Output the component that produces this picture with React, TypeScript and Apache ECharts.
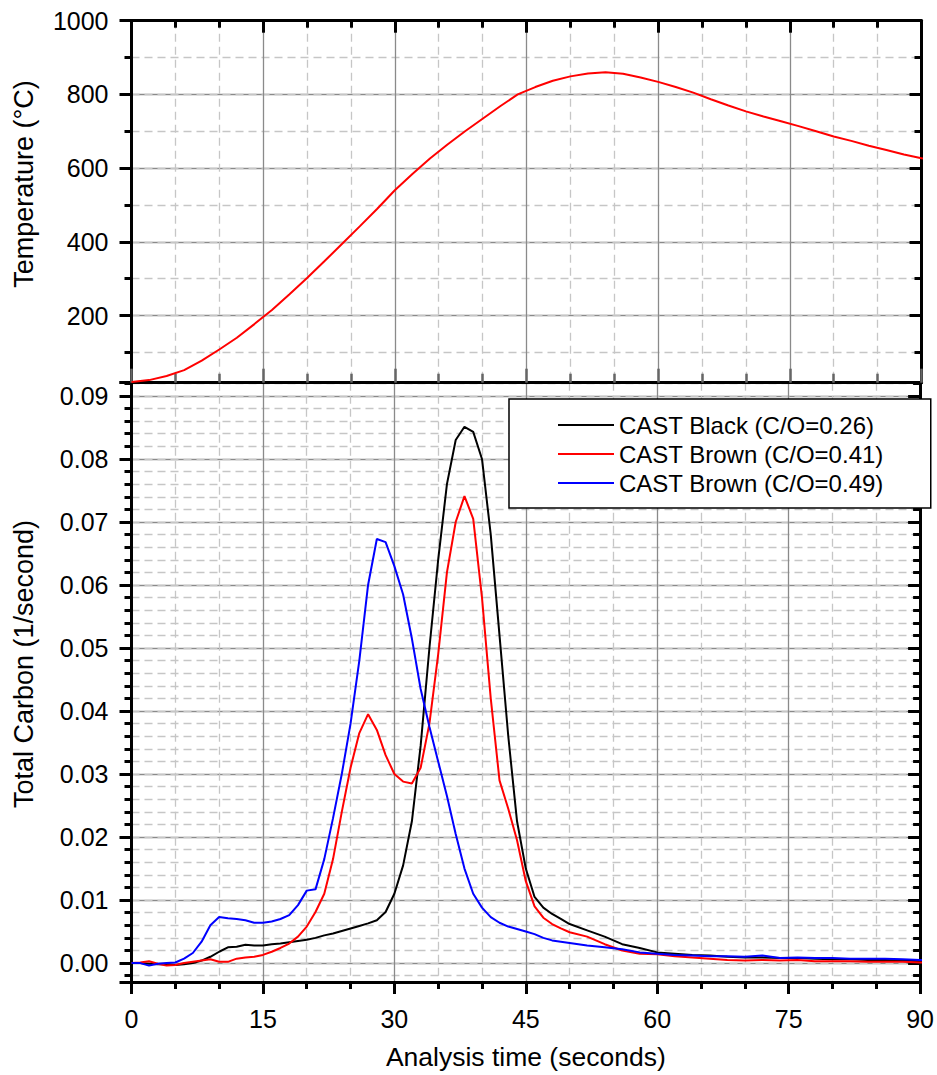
import React, { useEffect, useRef } from "react";
import * as echarts from "echarts";

// ---------- data ----------
const tempTime = [0, 2, 4, 6, 8, 10, 12, 14, 16, 18, 20, 22, 24, 26, 28, 30, 32, 34, 36, 38, 40, 42, 44, 46, 48, 50, 52, 54, 56, 58, 60, 62, 64, 66, 68, 70, 72, 74, 76, 78, 80, 82, 84, 86, 88, 90, 91.5];
const temperature = [20, 25, 36, 52, 78, 108, 140, 177, 215, 258, 302, 348, 395, 442, 490, 540, 584, 626, 664, 700, 734, 768, 800, 820, 837, 849, 857, 860, 856, 846, 834, 820, 805, 787, 770, 754, 740, 727, 714, 700, 686, 674, 661, 649, 637, 627, 619];

const carbonTime = [
  0, 1, 2, 3, 4, 5, 6, 7, 8, 9, 10, 11, 12, 13, 14, 15, 16, 17, 18, 19, 20, 21, 22, 23, 24, 25,
  26, 27, 28, 29, 30, 31, 32, 33, 34, 35, 36, 37, 38, 39, 40, 41, 42, 43, 44, 45, 46, 47, 48, 49, 50,
  52, 54, 56, 58, 60, 62, 64, 66, 68, 70, 72, 74, 76, 78, 80, 82, 84, 86, 88, 90, 91.5,
];
const castBlack026 = [
  0.0, 0.0, -0.0001, -0.0002, -0.0002, -0.0003, -0.0002, 0.0, 0.0004, 0.001, 0.0018, 0.0025, 0.0026, 0.0029, 0.0028, 0.0028, 0.003, 0.0031, 0.0033, 0.0035, 0.0037, 0.004, 0.0044, 0.0047, 0.0051, 0.0055,
  0.0059, 0.0063, 0.0068, 0.0081, 0.011, 0.0155, 0.0225, 0.0345, 0.05, 0.064, 0.076, 0.083, 0.0851, 0.0843, 0.08, 0.068, 0.052, 0.036, 0.0225, 0.015, 0.0105, 0.0088, 0.0078, 0.007, 0.0062,
  0.0052, 0.0042, 0.003, 0.0024, 0.0017, 0.0015, 0.0013, 0.0012, 0.001, 0.0009, 0.0009, 0.0008, 0.0008, 0.0007, 0.0006, 0.0006, 0.0005, 0.0005, 0.0004, 0.0003, 0.0006,
];
const castBrown041 = [
  0.0, 0.0001, 0.0003, -0.0001, -0.0004, -0.0003, 0.0, 0.0002, 0.0004, 0.0006, 0.0002, 0.0002, 0.0007, 0.0009, 0.001, 0.0013, 0.0018, 0.0024, 0.0031, 0.0042, 0.0058, 0.0081, 0.011, 0.0165, 0.024, 0.031,
  0.0365, 0.0395, 0.037, 0.033, 0.03, 0.0288, 0.0285, 0.031, 0.038, 0.049, 0.062, 0.07, 0.0741, 0.0705, 0.058, 0.042, 0.029, 0.0245, 0.0195, 0.013, 0.009, 0.0072, 0.0062, 0.0055, 0.0049,
  0.0042, 0.003, 0.002, 0.0015, 0.0014, 0.0011, 0.0009, 0.0007, 0.0005, 0.0004, 0.0005, 0.0004, 0.0005, 0.0003, 0.0003, 0.0003, 0.0002, 0.0002, 0.0002, 0.0001, 0.0001,
];
const castBrown049 = [
  0.0, 0.0, -0.0004, -0.0001, 0.0, 0.0001, 0.0007, 0.0016, 0.0034, 0.006, 0.0073, 0.0071, 0.007, 0.0068, 0.0064, 0.0064, 0.0066, 0.007, 0.0076, 0.0092, 0.0115, 0.0117, 0.0165, 0.023, 0.03, 0.038,
  0.048, 0.06, 0.0673, 0.0668, 0.063, 0.0585, 0.0515, 0.0435, 0.0375, 0.032, 0.0265, 0.0205, 0.015, 0.011, 0.0088, 0.0073, 0.0064, 0.0058, 0.0054, 0.005, 0.0046, 0.004, 0.0036, 0.0034, 0.0032,
  0.0028, 0.0025, 0.0022, 0.0017, 0.0015, 0.0013, 0.0012, 0.0011, 0.0011, 0.001, 0.0012, 0.0008, 0.0009, 0.0008, 0.0008, 0.0007, 0.0007, 0.0007, 0.0006, 0.0005, 0.0005,
];

const seriesNames = ["CAST Black (C/O=0.26)", "CAST Brown (C/O=0.41)", "CAST Brown (C/O=0.49)"];
const seriesColors = ["#000000", "#ff0000", "#0000ff"];

const FONT = "'Liberation Sans', Arial, sans-serif";

const pairs = (xs: number[], ys: number[]) => xs.map((x, i) => [x, ys[i]]);

const majorSplit = { show: true, lineStyle: { color: "#8a8a8a", width: 1.3 } };
const minorSplit = { show: true, lineStyle: { color: "#c6c6c6", width: 1.3, type: [8, 5] } };
const blackLine = { show: true, onZero: false, lineStyle: { color: "#000", width: 3 } };

export default function App() {
  const ref = useRef<HTMLDivElement>(null);
  useEffect(() => {
    document.body.style.margin = "0";
    const chart = echarts.init(ref.current!, null, { renderer: "svg" });

    const yTop = (extra: any) => ({
      type: "value",
      gridIndex: 0,
      min: 18,
      max: 1000,
      splitNumber: 5,
      axisLabel: { show: false },
      splitLine: { show: false },
      axisLine: { show: false, onZero: false },
      ...extra,
    });
    const yBot = (extra: any) => ({
      type: "value",
      gridIndex: 1,
      min: -0.003,
      max: 0.0921,
      splitNumber: 5,
      axisLabel: { show: false },
      splitLine: { show: false },
      axisLine: { show: false, onZero: false },
      ...extra,
    });

    chart.setOption({
      animation: false,
      backgroundColor: "#ffffff",
      textStyle: { fontFamily: FONT },
      grid: [
        { left: 131.5, top: 20.7, width: 790, height: 362, containLabel: false },
        { left: 131.5, top: 382.7, width: 790, height: 604.5, containLabel: false },
      ],
      xAxis: [
        {
          type: "value", gridIndex: 0, position: "top", min: 0, max: 90, interval: 15,
          axisLine: blackLine,
          axisTick: { show: true, inside: true, length: 12, lineStyle: { color: "#000", width: 3 } },
          minorTick: { show: true, splitNumber: 3, length: 7, lineStyle: { color: "#000", width: 3 } },
          axisLabel: { show: false },
          splitLine: majorSplit,
          minorSplitLine: minorSplit,
        },
        {
          type: "value", gridIndex: 0, position: "bottom", min: 0, max: 90, interval: 15,
          axisLine: blackLine,
          axisTick: { show: true, inside: true, length: 14, lineStyle: { color: "#666", width: 2.5 } },
          minorTick: { show: true, splitNumber: 3, length: 9, lineStyle: { color: "#666", width: 2.5 } },
          axisLabel: { show: false },
          splitLine: { show: false },
        },
        {
          type: "value", gridIndex: 1, position: "bottom", min: 0, max: 90, interval: 15,
          axisLine: blackLine,
          axisTick: { show: true, inside: false, length: 12, lineStyle: { color: "#000", width: 3 } },
          minorTick: { show: true, splitNumber: 3, length: 7, lineStyle: { color: "#000", width: 3 } },
          axisLabel: { show: true, fontSize: 25, color: "#000", margin: 24, fontFamily: FONT },
          splitLine: majorSplit,
          minorSplitLine: minorSplit,
          name: "Analysis time (seconds)",
          nameLocation: "middle",
          nameGap: 61,
          nameTextStyle: { fontSize: 26.5, color: "#000", fontFamily: FONT },
        },
      ],
      yAxis: [
        yTop({
          position: "left", minInterval: 200, maxInterval: 200,
          axisLine: blackLine,
          axisTick: { show: true, inside: false, length: 12, lineStyle: { color: "#000", width: 3 } },
          axisLabel: {
            show: true, fontSize: 25, color: "#000", margin: 23, fontFamily: FONT,
            formatter: (v: number) => (Math.abs(v % 200) < 1e-6 ? String(v) : ""),
          },
          splitLine: majorSplit,
        }),
        yTop({
          position: "left", minInterval: 100, maxInterval: 100,
          axisTick: { show: true, inside: false, length: 7, lineStyle: { color: "#000", width: 3 } },
          splitLine: minorSplit,
        }),
        yTop({
          position: "right", minInterval: 200, maxInterval: 200,
          axisLine: blackLine,
          axisTick: { show: true, inside: true, length: 12, lineStyle: { color: "#000", width: 3 } },
        }),
        yTop({
          position: "right", minInterval: 100, maxInterval: 100,
          axisTick: { show: true, inside: true, length: 7, lineStyle: { color: "#000", width: 3 } },
        }),
        yBot({
          position: "left", minInterval: 0.01, maxInterval: 0.01,
          axisLine: blackLine,
          axisTick: { show: true, inside: false, length: 12, lineStyle: { color: "#000", width: 3 } },
          axisLabel: {
            show: true, fontSize: 25, color: "#000", margin: 23, fontFamily: FONT,
            formatter: (v: number) => {
              const r = Math.round(v * 100);
              return Math.abs(v * 100 - r) < 1e-6 ? (r / 100).toFixed(2) : "";
            },
          },
          splitLine: majorSplit,
        }),
        yBot({
          position: "left", minInterval: 0.002, maxInterval: 0.002,
          axisTick: { show: true, inside: false, length: 7, lineStyle: { color: "#000", width: 3 } },
          splitLine: minorSplit,
        }),
        yBot({
          position: "right", minInterval: 0.01, maxInterval: 0.01,
          axisLine: blackLine,
          axisTick: { show: true, inside: true, length: 12, lineStyle: { color: "#000", width: 3 } },
        }),
        yBot({
          position: "right", minInterval: 0.002, maxInterval: 0.002,
          axisTick: { show: true, inside: true, length: 7, lineStyle: { color: "#000", width: 3 } },
        }),
      ],
      legend: {
        data: seriesNames,
        orient: "vertical",
        left: 509,
        top: 399,
        padding: [14, 47, 13, 49],
        itemGap: 5,
        itemWidth: 56,
        itemHeight: 2,
        itemTextGap: 8,
        icon: "rect",
        backgroundColor: "#ffffff",
        borderColor: "#000000",
        borderWidth: 1.5,
        borderRadius: 0,
        z: 10,
        textStyle: { fontSize: 24, lineHeight: 24, color: "#000", fontFamily: FONT },
      },
      graphic: [
        {
          type: "text", x: 24, y: 184, rotation: Math.PI / 2,
          style: { text: "Temperature (°C)", font: `27px ${FONT}`, fill: "#000", textAlign: "center", textVerticalAlign: "middle" },
        },
        {
          type: "text", x: 24, y: 664, rotation: Math.PI / 2,
          style: { text: "Total Carbon (1/second)", font: `27px ${FONT}`, fill: "#000", textAlign: "center", textVerticalAlign: "middle" },
        },
      ],
      series: [
        {
          name: "Temperature", type: "line", xAxisIndex: 0, yAxisIndex: 0,
          data: pairs(tempTime, temperature), showSymbol: false, symbol: "none", clip: false,
          lineStyle: { color: "#ff0000", width: 2 }, itemStyle: { color: "#ff0000" },
        },
        ...[castBlack026, castBrown041, castBrown049].map((vals, i) => ({
          name: seriesNames[i], type: "line", xAxisIndex: 2, yAxisIndex: 4,
          data: pairs(carbonTime, vals), showSymbol: false, symbol: "none", clip: false,
          lineStyle: { color: seriesColors[i], width: 2 }, itemStyle: { color: seriesColors[i] },
        })),
      ],
    });
    return () => chart.dispose();
  }, []);
  return <div ref={ref} style={{ width: 937, height: 1075 }} />;
}
